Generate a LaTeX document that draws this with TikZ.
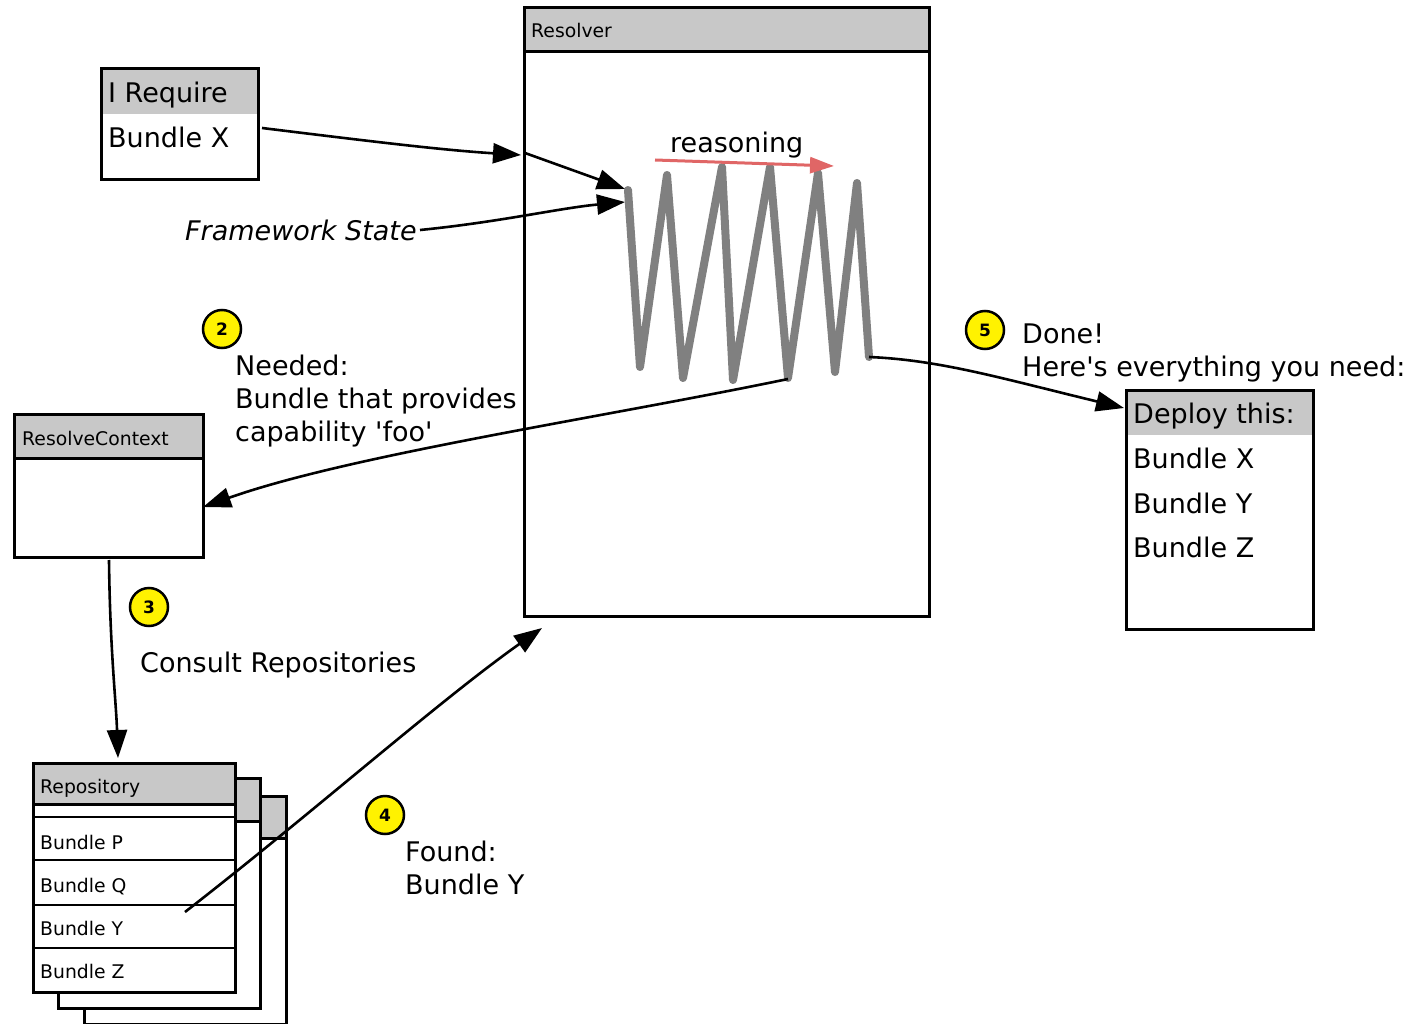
\documentclass[tikz,border=0pt]{standalone}
\usepackage{fontspec}
\newfontfamily\dv{DejaVu Sans}
\usetikzlibrary{arrows.meta}
\definecolor{hdr}{HTML}{C8C8C8}
\definecolor{zig}{HTML}{808080}
\definecolor{redarr}{HTML}{E06666}
\begin{document}
\begin{tikzpicture}[x=1pt,y=-1pt,
  box/.style={draw=black,line width=2.8pt,fill=white,rectangle,inner sep=0pt,anchor=north west},
  hdrfill/.style={path picture={\fill[hdr] (path picture bounding box.north west) rectangle ([yshift=-#1]path picture bounding box.north east);}},
  hdrline/.style={path picture={\fill[hdr] (path picture bounding box.north west) rectangle ([yshift=-#1]path picture bounding box.north east);
     \draw[line width=2.8pt] ([yshift=-#1]path picture bounding box.north west) -- ([yshift=-#1]path picture bounding box.north east);}},
  big/.style={font=\dv\fontsize{27}{31}\selectfont, inner sep=0pt, anchor=base west},
  bigit/.style={font=\dv\itshape\fontsize{27}{31}\selectfont, inner sep=0pt, anchor=base west},
  small/.style={font=\dv\fontsize{18.8}{22}\selectfont, inner sep=0pt, anchor=base west},
  arr/.style={draw=black,line width=2.6pt,-{Triangle[length=28pt,width=20pt]}},
  badge/.style={circle, draw=black, fill=yellow, line width=2.5pt, minimum size=38pt, inner sep=0pt, font=\dv\bfseries\fontsize{17}{17}\selectfont},
]
\useasboundingbox (0,0) rectangle (1418,1024);

% boxes
\node[box, hdrfill=46pt, minimum width=157pt, minimum height=111pt] (req) at (100,67) {};
\node[big] (reqT) at (108,103) {I Require};
\node[big] (reqB) at (108,148) {Bundle X};

\node[box, hdrline=44pt, minimum width=405pt, minimum height=609pt] (res) at (523,6) {};
\node[small] (resT) at (531,38) {Resolver};

\node[box, hdrline=44pt, minimum width=189pt, minimum height=143pt] (rctx) at (13,413) {};
\node[small] (rctxT) at (22,445) {ResolveContext};

\node[box, hdrfill=45pt, minimum width=187pt, minimum height=239pt] (dep) at (1125,389) {};
\node[big] (depT) at (1133,423) {Deploy this:};
\node[big] (depX) at (1133,468) {Bundle X};
\node[big] (depY) at (1133,513) {Bundle Y};
\node[big] (depZ) at (1133,557) {Bundle Z};

% repository stack
\node[box, hdrline=42pt, minimum width=202pt, minimum height=228pt] (repo3) at (83,795) {};
\node[box, hdrline=43pt, minimum width=202pt, minimum height=230pt] (repo2) at (57,777) {};
\node[box, hdrline=41pt, minimum width=202pt, minimum height=229pt] (repo1) at (32,762) {};
\foreach \yy in {817,860,905,948}
  \draw[line width=2.8pt] (repo1.west |- 0,\yy) -- (repo1.east |- 0,\yy);
\node[small] (repoT) at (40,793) {Repository};
\node[small] (repoP) at (40,849) {Bundle P};
\node[small] (repoQ) at (40,892) {Bundle Q};
\node[small] (repoY) at (40,935) {Bundle Y};
\node[small] (repoZ) at (40,978) {Bundle Z};

% texts
\node[big] (reason) at (670,153) {reasoning};
\node[bigit] (fw) at (185,241) {Framework State};
\node[big] (need1) at (235,375) {Needed:};
\node[big] (need2) at (235,408) {Bundle that provides};
\node[big] (need3) at (235,441) {capability 'foo'};
\node[big] (consult) at (140,672) {Consult Repositories};
\node[big] (found1) at (405,861) {Found:};
\node[big] (found2) at (405,894) {Bundle Y};
\node[big] (done1) at (1022,343) {Done!};
\node[big] (done2) at (1022,376) {Here's everything you need:};

% badges
\node[badge] (b2) at (222,329) {2};
\node[badge] (b3) at (149,607) {3};
\node[badge] (b4) at (385,815) {4};
\node[badge] (b5) at (985,330) {5};

% zigzag
\draw[zig, line width=8pt, line join=round, line cap=round]
  (628,190) -- (640,367) -- (667,175) -- (683,378) -- (722,167) -- (733,380)
  -- (770,167) -- (788,378) -- (818,173) -- (835,372) -- (857,183) -- (869,357);

% coordinates
\coordinate (a1s) at (262,128);
\coordinate (a1e) at (521,155);
\coordinate (a2s) at (525,153);
\coordinate (zs) at (625,189);
\coordinate (zs2) at (625,202);
\coordinate (fws) at (420,230);
\coordinate (zb) at (788,379);
\coordinate (rctxE) at (203,507);
\coordinate (rctxS) at (109,560);
\coordinate (repN) at (118,758);
\coordinate (bY) at (185,912);
\coordinate (resB) at (542,628);
\coordinate (ze) at (869,357);
\coordinate (depW) at (1124,408);
\coordinate (rs) at (655,160);
\coordinate (re) at (834,166);

% arrows
\draw[arr] (a1s) .. controls (360,140) and (440,150) .. (a1e);
\draw[arr] (a2s) -- (zs);
\draw[arr] (fws) .. controls (500,222) and (560,208) .. (zs2);
\draw[arr] (zb) .. controls (600,418) and (350,455) .. (rctxE);
\draw[arr] (rctxS) .. controls (110,650) and (116,700) .. (repN);
\draw[arr] (bY) .. controls (310,815) and (440,700) .. (resB);
\draw[arr] (ze) .. controls (940,360) and (1000,378) .. (depW);
\draw[draw=redarr, line width=3pt, -{Triangle[length=24pt,width=16pt]}] (rs) -- (re);
\end{tikzpicture}
\end{document}
